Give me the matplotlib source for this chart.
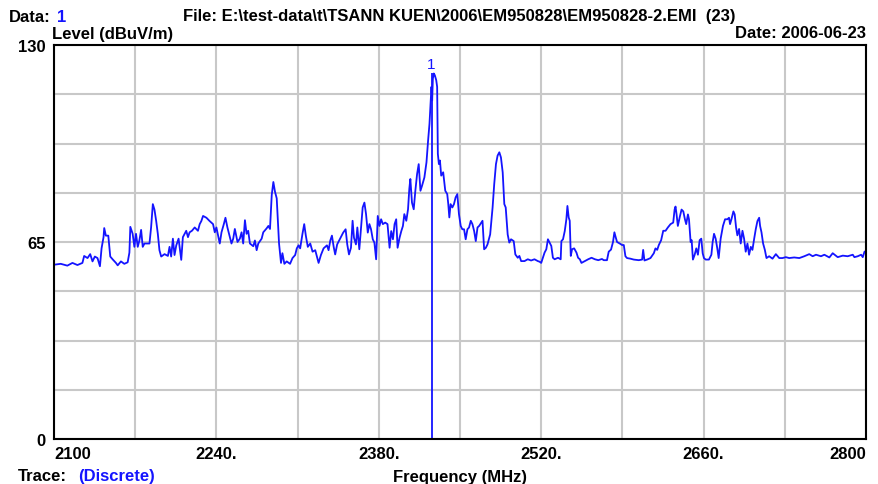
import matplotlib
matplotlib.use('Agg')
import matplotlib.pyplot as plt
import numpy as np

plt.rcParams['font.family'] = ['Liberation Sans', 'DejaVu Sans']

# trace (MHz, dBuV/m)
freq = [2100.0, 2105.8, 2111.5, 2115.9, 2120.2, 2124.5, 2126.0, 2128.9, 2131.2, 2133.2,
        2135.2, 2137.5, 2139.6, 2141.0, 2142.7, 2143.3, 2144.7, 2146.8, 2148.5, 2150.5,
        2153.4, 2154.9, 2157.7, 2160.6, 2163.5, 2165.0, 2165.8, 2167.8, 2169.3, 2170.7,
        2172.2, 2173.6, 2175.1, 2176.5, 2178.0, 2182.3, 2183.7, 2185.2, 2186.6, 2188.1,
        2189.5, 2190.9, 2192.4, 2195.3, 2198.2, 2199.6, 2201.0, 2202.5, 2203.9, 2205.4,
        2207.4, 2209.7, 2211.1, 2214.0, 2215.5, 2216.9, 2218.9, 2221.3, 2224.1, 2225.6,
        2227.0, 2228.5, 2231.4, 2234.2, 2237.1, 2238.6, 2240.0, 2241.5, 2242.9, 2244.4,
        2246.4, 2247.8, 2249.5, 2251.6, 2253.0, 2254.5, 2255.9, 2258.2, 2260.2, 2261.7,
        2263.1, 2264.6, 2266.0, 2267.4, 2268.9, 2271.8, 2273.2, 2274.7, 2276.1, 2279.0,
        2280.4, 2283.3, 2284.8, 2286.2, 2287.7, 2289.1, 2290.5, 2292.0, 2292.9, 2294.0,
        2295.7, 2296.9, 2298.6, 2300.6, 2303.5, 2305.6, 2307.9, 2309.3, 2310.8, 2312.2,
        2314.2, 2315.7, 2317.1, 2318.8, 2320.9, 2322.9, 2325.2, 2328.1, 2330.1, 2332.4,
        2335.3, 2336.7, 2338.2, 2339.6, 2341.1, 2342.4, 2344.1, 2346.4, 2349.3, 2351.4,
        2352.8, 2354.3, 2356.0, 2357.4, 2358.6, 2360.3, 2361.5, 2363.2, 2364.7, 2366.1,
        2367.6, 2369.0, 2370.5, 2371.9, 2373.3, 2374.8, 2376.2, 2377.7, 2379.1, 2380.6,
        2382.0, 2383.5, 2385.5, 2387.5, 2389.3, 2390.7, 2392.2, 2393.6, 2395.0, 2396.2,
        2397.9, 2399.4, 2400.8, 2402.0, 2403.7, 2405.2, 2406.3, 2407.2, 2408.6, 2410.1,
        2411.5, 2413.0, 2414.4, 2415.9, 2417.3, 2419.3, 2421.1, 2422.5, 2423.7, 2424.6,
        2425.4, 2426.0, 2426.6, 2427.4, 2428.3, 2429.5, 2430.3, 2430.9, 2431.8, 2432.7,
        2433.8, 2435.5, 2437.3, 2439.0, 2439.9, 2440.8, 2441.9, 2443.4, 2444.8, 2446.2,
        2447.7, 2449.1, 2450.6, 2452.0, 2453.5, 2454.9, 2456.4, 2457.8, 2459.3, 2460.7,
        2462.2, 2463.6, 2465.1, 2466.5, 2469.4, 2470.8, 2472.3, 2473.7, 2476.0, 2478.1,
        2479.5, 2481.0, 2482.4, 2483.9, 2485.3, 2486.8, 2488.2, 2489.4, 2491.1, 2492.5,
        2494.0, 2496.3, 2497.7, 2499.8, 2501.2, 2502.7, 2505.6, 2508.4, 2511.3, 2514.2,
        2517.1, 2518.6, 2520.0, 2521.5, 2522.9, 2524.4, 2525.8, 2527.3, 2528.7, 2530.1,
        2531.6, 2534.5, 2536.8, 2537.4, 2538.8, 2540.3, 2541.7, 2542.6, 2543.7, 2544.6,
        2545.5, 2546.6, 2548.4, 2550.4, 2551.8, 2553.3, 2554.7, 2557.6, 2560.5, 2563.4,
        2566.3, 2569.2, 2572.4, 2573.9, 2576.7, 2578.2, 2580.2, 2581.9, 2583.1, 2584.2,
        2585.4, 2587.7, 2589.7, 2591.2, 2592.6, 2594.0, 2596.9, 2599.8, 2604.1, 2607.0,
        2607.9, 2609.0, 2611.3, 2614.2, 2617.1, 2618.5, 2620.0, 2621.4, 2623.4, 2625.2,
        2627.2, 2629.2, 2631.5, 2633.8, 2635.0, 2635.8, 2636.7, 2637.8, 2639.6, 2641.0,
        2642.5, 2643.9, 2645.0, 2646.5, 2647.4, 2648.8, 2649.7, 2650.8, 2652.3, 2653.7,
        2655.1, 2656.6, 2658.0, 2659.2, 2660.3, 2661.8, 2664.6, 2666.7, 2667.8, 2669.0,
        2670.4, 2671.8, 2673.0, 2674.7, 2676.7, 2678.5, 2680.5, 2681.9, 2682.8, 2684.0,
        2685.7, 2686.8, 2688.0, 2689.1, 2690.6, 2692.0, 2693.5, 2694.9, 2696.3, 2697.8,
        2699.2, 2700.7, 2702.1, 2703.6, 2705.0, 2706.4, 2707.9, 2708.7, 2709.9, 2711.3,
        2712.8, 2714.2, 2716.5, 2719.4, 2722.3, 2725.2, 2728.0, 2730.9, 2733.8, 2738.1,
        2742.5, 2746.8, 2751.1, 2754.0, 2756.9, 2761.2, 2764.1, 2768.4, 2771.3, 2775.6,
        2780.0, 2784.2, 2788.6, 2790.0, 2792.9, 2795.8, 2797.2, 2798.7, 2800.0]
level = [57.5, 57.8, 57.2, 58.1, 57.4, 58.1, 60.4, 59.7, 61.0, 58.6,
         60.2, 59.7, 57.0, 62.9, 66.6, 69.6, 67.1, 67.1, 60.2, 59.3,
         58.1, 57.3, 58.6, 57.8, 58.3, 61.5, 70.0, 67.7, 63.4, 67.7,
         63.4, 65.5, 69.0, 63.4, 64.5, 64.5, 69.8, 77.5, 75.7, 71.9,
         67.7, 62.3, 60.2, 61.0, 60.4, 63.4, 60.2, 66.1, 60.7, 63.9,
         66.1, 59.1, 66.6, 68.7, 66.6, 68.2, 68.7, 69.8, 68.7, 70.9,
         71.9, 73.6, 73.0, 71.9, 70.9, 68.2, 69.8, 67.1, 64.5, 68.2,
         70.9, 73.0, 69.8, 66.6, 64.5, 66.1, 69.3, 65.0, 66.1, 68.2,
         64.5, 72.2, 67.7, 68.7, 64.5, 63.6, 65.5, 62.3, 64.5, 66.1,
         68.2, 69.5, 70.3, 69.3, 80.5, 84.8, 81.6, 79.4, 73.0, 64.5,
         58.1, 61.3, 57.8, 58.6, 57.8, 59.7, 60.7, 62.9, 63.9, 62.9,
         67.7, 70.9, 67.1, 63.4, 64.5, 61.8, 62.3, 58.1, 60.7, 62.9,
         63.9, 62.3, 65.5, 67.1, 63.4, 60.9, 64.2, 65.9, 68.1, 69.2,
         64.2, 60.9, 63.1, 72.0, 66.4, 64.2, 69.8, 62.6, 69.8, 76.4,
         78.0, 74.2, 68.1, 70.9, 69.2, 65.9, 64.8, 59.3, 73.6, 70.3,
         72.5, 70.9, 71.4, 70.9, 63.1, 68.6, 65.9, 70.9, 72.5, 63.1,
         66.4, 68.6, 70.3, 74.2, 72.0, 75.8, 82.5, 85.8, 78.0, 75.8,
         81.9, 87.4, 90.7, 81.9, 83.6, 86.3, 91.3, 98.5, 104.0, 110.6,
         116.2, 111.7, 118.9, 120.6, 120.0, 118.4, 116.2, 94.1, 90.7, 91.9,
         86.9, 88.0, 81.9, 80.8, 77.5, 73.1, 77.5, 76.4, 77.5, 79.7,
         80.8, 74.2, 70.3, 69.2, 69.2, 65.9, 69.2, 69.8, 72.0, 70.9,
         68.6, 65.3, 69.8, 70.3, 72.0, 62.6, 63.1, 64.2, 67.5, 76.4,
         84.1, 90.7, 93.5, 94.6, 92.9, 88.0, 77.5, 76.4, 67.5, 64.8,
         65.9, 65.3, 60.9, 59.8, 60.4, 58.7, 58.7, 59.3, 58.9, 59.3,
         58.7, 58.5, 58.1, 59.8, 61.5, 62.6, 65.9, 64.8, 63.7, 59.8,
         59.3, 59.8, 59.3, 65.3, 65.9, 68.6, 72.5, 76.9, 73.1, 72.0,
         60.4, 62.6, 62.9, 61.5, 59.8, 59.3, 58.1, 58.7, 59.3, 59.8,
         59.3, 59.0, 59.4, 59.0, 59.0, 61.8, 62.5, 65.0, 68.2, 66.6,
         65.0, 64.5, 64.0, 64.0, 60.3, 59.7, 59.5, 59.2, 59.0, 59.2,
         62.4, 58.9, 59.2, 59.7, 61.3, 62.9, 62.4, 64.0, 65.6, 68.7,
         68.7, 69.8, 70.9, 71.4, 75.7, 76.7, 74.1, 70.3, 73.5, 75.7,
         75.1, 72.5, 70.9, 74.1, 72.5, 65.0, 65.6, 59.2, 60.8, 62.9,
         60.8, 65.6, 66.1, 61.3, 59.7, 59.2, 59.2, 60.8, 65.0, 67.7,
         66.1, 62.9, 59.7, 66.1, 70.3, 72.5, 72.5, 73.0, 70.9, 72.5,
         75.1, 74.1, 69.8, 67.2, 69.3, 64.5, 68.7, 66.1, 61.8, 64.5,
         60.8, 63.4, 62.4, 66.1, 69.3, 71.9, 73.0, 70.3, 68.2, 64.5,
         62.4, 59.7, 60.3, 59.5, 61.0, 59.7, 59.7, 60.0, 59.7, 59.9,
         59.7, 60.3, 61.0, 60.3, 60.8, 60.3, 60.8, 59.9, 61.3, 60.0,
         60.5, 60.3, 60.8, 60.0, 60.3, 60.8, 60.0, 61.8, 62.0]

marker_freq = 2426.0
marker_level = 120.6

xtick_vals = [2100, 2170, 2240, 2310, 2380, 2450, 2520, 2590, 2660, 2730, 2800]
xtick_text = ['2100', '', '2240.', '', '2380.', '', '2520.', '', '2660.', '', '2800']
ytick_vals = [0, 16.25, 32.5, 48.75, 65, 81.25, 97.5, 113.75, 130]
ytick_text = ['0', '', '', '', '65', '', '', '', '130']

W, H = 879, 485
fig = plt.figure(figsize=(W / 100, H / 100), dpi=100)
ax = fig.add_axes([54 / W, 1 - 440 / H, 812 / W, 394 / H])

blue = '#1414ff'
fs = 12
ax.plot(freq, level, color=blue, lw=1.3)
ax.vlines(marker_freq, 0, marker_level, color=blue, lw=1.3)
ax.text(marker_freq - 1, marker_level + 0.8, '1', color=blue, ha='center', va='bottom', fontsize=11)

ax.set_xlim(2100, 2800)
ax.set_ylim(0, 130)
ax.set_xticks(xtick_vals)
ax.set_xticklabels(xtick_text, fontsize=fs, fontweight='bold')
ax.set_yticks(ytick_vals)
ax.set_yticklabels(ytick_text, fontsize=fs, fontweight='bold')
labs = ax.get_xticklabels()
labs[0].set_ha('left')
labs[-1].set_ha('right')
ax.tick_params(axis='x', length=0, pad=5)
ax.tick_params(axis='y', length=0, pad=6)
ax.grid(True, color='#c8c8c8', lw=1.5)
ax.set_axisbelow(True)
for s in ax.spines.values():
    s.set_linewidth(1.5)

ax.set_xlabel('Frequency (MHz)', fontsize=fs, fontweight='bold', labelpad=6)

fig.text(9 / W, 1 - 17 / H, 'Data:', fontsize=fs, fontweight='bold', va='center')
fig.text(57 / W, 1 - 17 / H, '1', fontsize=fs, fontweight='bold', va='center', color=blue)
fig.text(183 / W, 1 - 17 / H,
         'File: E:\\test-data\\t\\TSANN KUEN\\2006\\EM950828\\EM950828-2.EMI  (23)',
         fontsize=fs, fontweight='bold', va='center')
fig.text(52 / W, 1 - 34 / H, 'Level (dBuV/m)', fontsize=fs, fontweight='bold', va='center')
fig.text(866 / W, 1 - 34 / H, 'Date: 2006-06-23', fontsize=fs, fontweight='bold',
         va='center', ha='right')
fig.text(18 / W, 1 / H, 'Trace:', fontsize=fs, fontweight='bold', va='bottom')
fig.text(78 / W, 1 / H, '(Discrete)', fontsize=fs, fontweight='bold', va='bottom',
         color=blue)

fig.savefig('out.png', dpi=100)
